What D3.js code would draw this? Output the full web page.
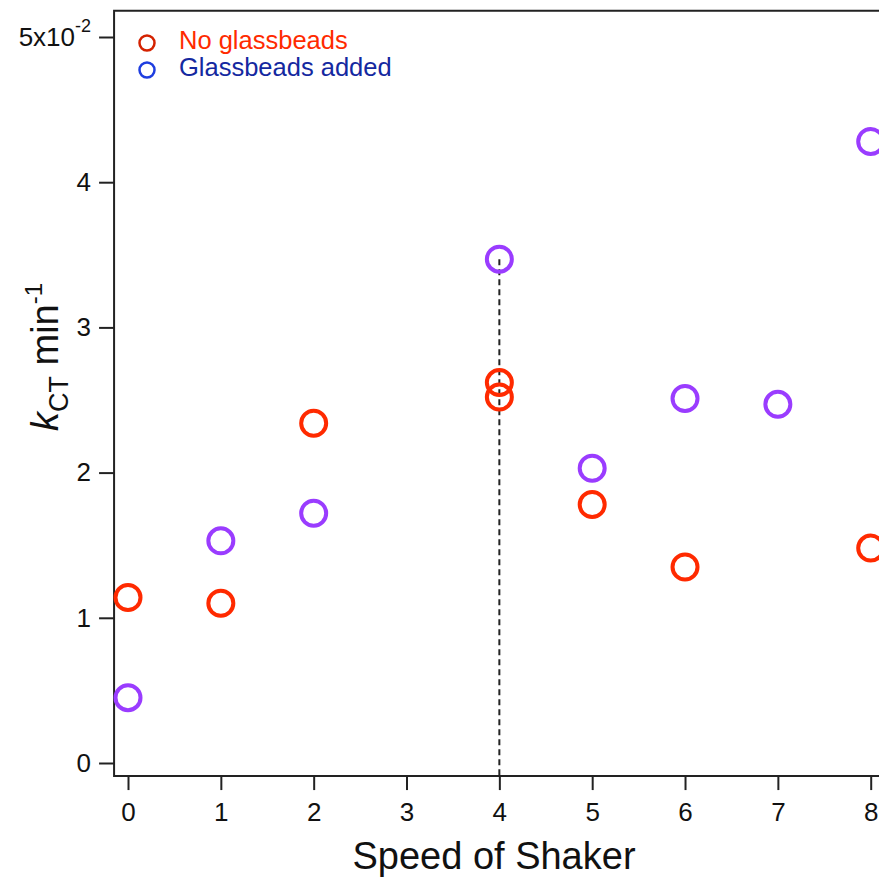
<!DOCTYPE html>
<html>
<head>
<meta charset="utf-8">
<script src="https://cdn.jsdelivr.net/npm/d3@7"></script>
<style>
    body { margin: 0; background: #fff; }
    svg { display: block; font-family: "Liberation Sans", Arial, sans-serif; }
</style>
</head>
<body>
<div id="chart"></div>
<script>
// Values in units of 10^-2 min^-1
var speedNoBeads = [0, 1, 2, 4, 4, 5, 6, 8];
var kNoBeads = [1.14, 1.10, 2.34, 2.62, 2.52, 1.78, 1.35, 1.48];
var speedBeads = [0, 1, 2, 4, 5, 6, 7, 8];
var kBeads = [0.45, 1.53, 1.72, 3.47, 2.03, 2.51, 2.47, 4.28];
var xTicks = [0, 1, 2, 3, 4, 5, 6, 7, 8];
var yTicks = [0, 1, 2, 3, 4, 5];
var dropLineSpeed = 4;
var dropLineK = 3.47;

var width = 879, height = 882;
var red = "#ff2a00", purple = "#9a3cff";

var svg = d3.select("#chart").append("svg")
    .attr("width", width)
    .attr("height", height);

// x: 0 -> 128px, 8 -> 870.7px ; y: 0 -> 763px, 5 -> 37px
var xScale = d3.scaleLinear().domain([0, 8]).range([128, 870.7]);
var yScale = d3.scaleLinear().domain([0, 5]).range([763, 37]);
var plotLeft = xScale(-0.15), plotBottom = yScale(-0.09), plotTop = yScale(5.18);

// frame: top, left, bottom (right side runs off the page)
svg.append("path")
    .attr("d", "M" + width + "," + plotTop + "H" + plotLeft + "V" + plotBottom + "H" + width)
    .attr("fill", "none")
    .attr("stroke", "#222")
    .attr("stroke-width", 2);

var xAxis = d3.axisBottom(xScale).tickValues(xTicks).tickSize(14).tickPadding(12);
var gx = svg.append("g")
    .attr("transform", "translate(0," + plotBottom + ")")
    .call(xAxis);
gx.select(".domain").remove();
gx.selectAll("line").attr("stroke", "#222").attr("stroke-width", 2);
gx.selectAll("text").attr("font-size", 26).attr("fill", "#111")
    .attr("font-family", "'Liberation Sans', Arial, sans-serif");

var yAxis = d3.axisLeft(yScale).tickValues(yTicks).tickSize(15).tickPadding(8)
    .tickFormat(function (d) { return d == 5 ? "" : d; });
var gy = svg.append("g")
    .attr("transform", "translate(" + plotLeft + ",0)")
    .call(yAxis);
gy.select(".domain").remove();
gy.selectAll("line").attr("stroke", "#222").attr("stroke-width", 2);
gy.selectAll("text").attr("font-size", 26).attr("fill", "#111")
    .attr("font-family", "'Liberation Sans', Arial, sans-serif");

// top tick label with exponent
var topLabel = svg.append("text")
    .attr("x", plotLeft - 23)
    .attr("y", yScale(5) + 9)
    .attr("text-anchor", "end")
    .attr("font-size", 26)
    .attr("fill", "#111");
topLabel.append("tspan").text("5x10");
topLabel.append("tspan").attr("font-size", 18).attr("dy", -14).text("-2");

// drop line at speed 4
svg.append("line")
    .attr("x1", xScale(dropLineSpeed)).attr("x2", xScale(dropLineSpeed))
    .attr("y1", yScale(dropLineK)).attr("y2", plotBottom)
    .attr("stroke", "#222")
    .attr("stroke-width", 2)
    .attr("stroke-dasharray", "6,4");

// markers
function drawSeries(xs, ys, color) {
    svg.append("g").selectAll("circle")
        .data(xs.map(function (d, i) { return [d, ys[i]]; }))
        .enter().append("circle")
        .attr("cx", function (d) { return xScale(d[0]); })
        .attr("cy", function (d) { return yScale(d[1]); })
        .attr("r", 12.5)
        .attr("fill", "none")
        .attr("stroke", color)
        .attr("stroke-width", 4);
}
drawSeries(speedNoBeads, kNoBeads, red);
drawSeries(speedBeads, kBeads, purple);

// legend
var legend = [
    { label: "No glassbeads", marker: "#d42200", text: "#ff2a00", y: 43 },
    { label: "Glassbeads added", marker: "#1e3ee0", text: "#1428a0", y: 70 }
];
legend.forEach(function (l) {
    svg.append("circle")
        .attr("cx", 147).attr("cy", l.y).attr("r", 7.5)
        .attr("fill", "none").attr("stroke", l.marker).attr("stroke-width", 2.5);
    svg.append("text")
        .attr("x", 179).attr("y", l.y + 6)
        .attr("font-size", 25.5)
        .attr("fill", l.text)
        .text(l.label);
});

// axis titles
svg.append("text")
    .attr("x", (353 + 635) / 2)
    .attr("y", 869)
    .attr("text-anchor", "middle")
    .attr("font-size", 38)
    .attr("fill", "#111")
    .text("Speed of Shaker");

var yTitle = svg.append("text")
    .attr("transform", "translate(58,357) rotate(-90)")
    .attr("text-anchor", "middle")
    .attr("font-size", 38)
    .attr("fill", "#111");
yTitle.append("tspan").attr("font-style", "italic").text("k");
yTitle.append("tspan").attr("font-size", 27).attr("dy", 10).text("CT");
yTitle.append("tspan").attr("dy", -10).text(" min");
yTitle.append("tspan").attr("font-size", 24).attr("dy", -16).text("-1");
</script>
</body>
</html>
